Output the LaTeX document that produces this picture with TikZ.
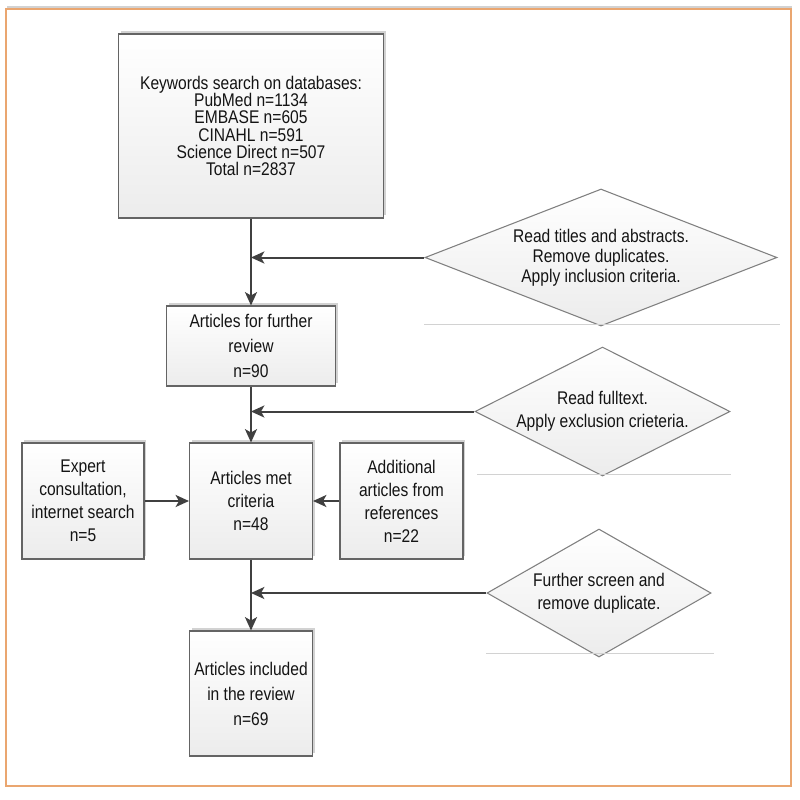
\documentclass[tikz,border=0pt]{standalone}
\usepackage{fontspec}
\setmainfont{Liberation Sans}[FakeStretch=0.85]
\usetikzlibrary{arrows.meta,shapes.geometric,shadows}

\definecolor{framecol}{RGB}{234,166,112}
\definecolor{linecol}{RGB}{64,64,64}
\definecolor{boxline}{RGB}{100,100,100}
\definecolor{diamline}{RGB}{128,128,128}
\definecolor{fillbot}{RGB}{236,236,236}
\definecolor{shadowcol}{RGB}{210,210,210}
\definecolor{textcol}{RGB}{20,20,20}

\newcommand{\fsz}[1]{\fontsize{13.75pt}{#1pt}\selectfont}

\tikzset{
  procbox/.style={draw=boxline, line width=0.8pt, top color=white, bottom color=fillbot,
    drop shadow={shadow xshift=1.5pt, shadow yshift=2.5pt, fill=shadowcol, opacity=1},
    inner sep=0pt, align=center, text=textcol},
  decision/.style={diamond, draw=diamline, line width=0.8pt, top color=white, bottom color=fillbot,
    inner sep=0pt, align=center, text=textcol},
  flowarrow/.style={draw=linecol, line width=1.5pt, -{Stealth[length=10pt,width=9pt,inset=2.5pt]}},
  floorline/.style={draw=shadowcol, line width=1.2pt}
}

\begin{document}
\begin{tikzpicture}[x=0.75pt,y=0.75pt,yscale=-1,xscale=1]
\useasboundingbox (0,0) rectangle (800,800);

%Frame
\draw [framecol, line width=1pt, fill=white, drop shadow={shadow xshift=1pt, shadow yshift=2pt, fill=shadowcol, opacity=1}] (6,9) rectangle (791,786);

%Process boxes
\node [procbox, minimum width=198.75pt, minimum height=138pt, font=\fsz{13}] (search) at (251,126) {Keywords search on databases:\\PubMed n=1134\\EMBASE n=605\\CINAHL n=591\\Science Direct n=507\\Total n=2837};
\node [procbox, minimum width=126.75pt, minimum height=60pt, font=\fsz{18.75}] (review) at (251,346) {Articles for further\\review\\n=90};
\node [procbox, minimum width=91.5pt, minimum height=87pt, font=\fsz{17.25}] (expert) at (83,501) {Expert\\consultation,\\internet search\\n=5};
\node [procbox, minimum width=92.25pt, minimum height=87pt, font=\fsz{17.25}] (met) at (251,501) {Articles met\\criteria\\n=48};
\node [procbox, minimum width=92.25pt, minimum height=87pt, font=\fsz{17.25}] (additional) at (401.5,501) {Additional\\articles from\\references\\n=22};
\node [procbox, minimum width=92.25pt, minimum height=93.75pt, font=\fsz{18.75}] (included) at (251,693.5) {Articles included\\in the review\\n=69};

%Decisions
\node [decision, shape aspect=2.6, minimum width=264pt, minimum height=102.75pt, font=\fsz{15}] (screen) at (601,257.5) {Read titles and abstracts.\\Remove duplicates.\\Apply inclusion criteria.};
\node [decision, shape aspect=2, minimum width=191.25pt, minimum height=96.75pt, font=\fsz{17.25}] (fulltext) at (602.5,411.5) {Read fulltext.\\Apply exclusion crieteria.};
\node [decision, shape aspect=1.75, minimum width=168pt, minimum height=96pt, font=\fsz{17.25}] (dedup) at (599,593) {Further screen and\\remove duplicate.};

%Floor lines under decisions
\draw [floorline] ([yshift=-1.5pt]screen.west |- screen.south) -- ([yshift=-1.5pt,xshift=2pt]screen.east |- screen.south);
\draw [floorline] ([yshift=-1.5pt,xshift=2pt]fulltext.west |- fulltext.south) -- ([yshift=-1.5pt]fulltext.east |- fulltext.south);
\draw [floorline] ([yshift=-3pt]dedup.west |- dedup.south) -- ([yshift=-3pt,xshift=2pt]dedup.east |- dedup.south);

%Connectors
\draw [flowarrow] (search) -- (review);
\draw [flowarrow] (review) -- (met);
\draw [flowarrow] (met) -- (included);
\draw [flowarrow] (expert) -- (met);
\draw [flowarrow] (additional) -- (met);
\draw [flowarrow] (screen.west) -- (screen.west -| search.south);
\draw [flowarrow] (fulltext.west) -- (fulltext.west -| review.south);
\draw [flowarrow] (dedup.west) -- (dedup.west -| met.south);
\end{tikzpicture}
\end{document}
